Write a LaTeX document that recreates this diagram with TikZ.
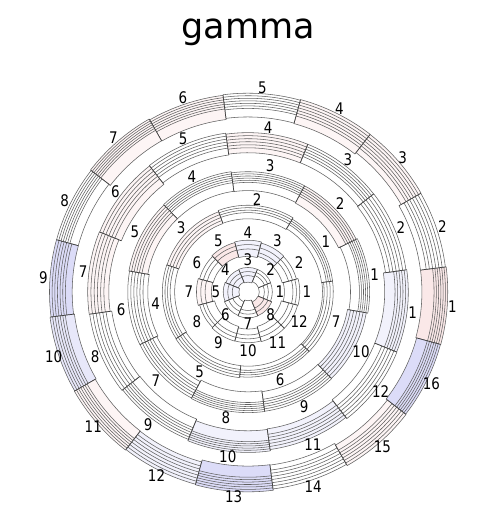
\documentclass[tikz,border=0pt]{standalone}
\usepackage{fontspec}
\setmainfont{DejaVu Sans}
\newfontfamily\labfont[FakeStretch=0.84]{DejaVu Sans}
\definecolor{Wc}{HTML}{FFFFFF}
\definecolor{Pa}{HTML}{FDF5F5}
\definecolor{Pb}{HTML}{FAE8E8}
\definecolor{La}{HTML}{F2F2FC}
\definecolor{Lm}{HTML}{E8E8FA}
\definecolor{Lb}{HTML}{DCDCF8}
\tikzset{
  arcline/.style={draw=black!62, line width=0.55pt},
  radline/.style={draw=black!75, line width=0.7pt},
  lab/.style={font=\labfont\fontsize{16}{16}\selectfont, inner sep=0pt, text=black},
  ttl/.style={font=\fontsize{35}{35}\selectfont, inner sep=0pt, anchor=base},
}
% #1 id, #2 N, #3 offset, #4 Rin, #5 Rout, #6 nlines, #7 spacing, #8 label radius, #9 list k/colour
\newcommand\drawring[9]{%
  \foreach \k/\cl in {#9}{%
    \pgfmathsetmacro\aA{#3+(\k-1.5)*360/#2}%
    \pgfmathsetmacro\aB{#3+(\k-0.5)*360/#2}%
    \pgfmathsetmacro\aM{#3+(\k-1)*360/#2}%
    \pgfmathsetmacro\ro{#5+2*rnd-1}%
    \pgfmathsetmacro\ri{#4+3*rnd-1.5}%
    \pgfmathsetmacro\sp{#7*(0.8+0.5*rnd)}%
    \pgfmathtruncatemacro\nl{#6-1}%
    \fill[\cl] (\aA:\ri) arc[start angle=\aA, end angle=\aB, radius=\ri]
      -- (\aB:\ro) arc[start angle=\aB, end angle=\aA, radius=\ro] -- cycle;
    \foreach \j in {0,...,\nl}{%
      \pgfmathsetmacro\rr{\ro-\j*\sp}%
      \draw[arcline] (\aA:\rr) arc[start angle=\aA, end angle=\aB, radius=\rr];
    }%
    \draw[arcline] (\aA:\ri) arc[start angle=\aA, end angle=\aB, radius=\ri];
    \draw[radline] (\aA:\ri) -- (\aA:\ro);
    \draw[radline] (\aB:\ri) -- (\aB:\ro);
    \node[lab] (r#1s\k) at (\aM:#8) {\k};
  }%
}
\begin{document}
\begin{tikzpicture}[x=1pt,y=1pt]
\useasboundingbox (0,0) rectangle (476,518);
\fill[white] (0,0) rectangle (476,518);
\node[ttl] (title) at (248,479) {gamma};
\pgfmathsetseed{7}
\begin{scope}[shift={(248,226)}]
\drawring{6}{16}{-4}{175}{199}{7}{2.6}{205}{1/Pb,2/Wc,3/Pa,4/Pa,5/Wc,6/Pa,7/Pa,8/Wc,9/Lb,10/Lm,11/Pa,12/La,13/Lb,14/Wc,15/Pa,16/Lb}
\drawring{5}{12}{-7}{138}{160}{6}{2.6}{166}{1/La,2/Wc,3/Wc,4/Pa,5/Wc,6/Pa,7/Pa,8/Wc,9/Wc,10/La,11/La,12/Wc}
\drawring{4}{10}{8}{101}{121}{6}{2.5}{128}{1/Wc,2/Pa,3/Wc,4/Wc,5/Pa,6/Wc,7/Wc,8/Wc,9/Wc,10/La}
\drawring{3}{7}{33}{74}{86}{4}{2.5}{93}{1/Wc,2/Wc,3/Pa,4/Wc,5/Wc,6/Wc,7/Wc}
\drawring{2}{12}{0}{36}{51}{3}{4}{59}{1/Wc,2/Wc,3/La,4/La,5/Pb,6/Wc,7/Pa,8/Wc,9/Wc,10/Wc,11/Wc,12/Wc}
\drawring{1}{8}{0}{10}{25}{3}{4}{32}{1/Wc,2/Wc,3/La,4/La,5/La,6/Wc,7/Wc,8/Pb}
\end{scope}
\end{tikzpicture}
\end{document}
